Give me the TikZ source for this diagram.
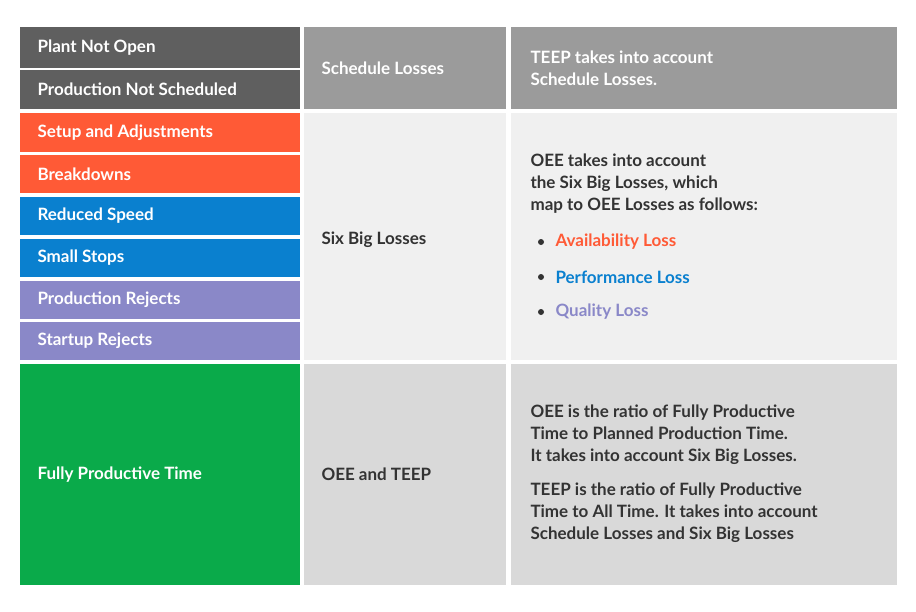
\documentclass[tikz,border=0pt]{standalone}
\usepackage{fontspec}
\setmainfont{Lato}
\definecolor{dg}{HTML}{5F5F5F}
\definecolor{og}{HTML}{FF5A36}
\definecolor{bl}{HTML}{0A80CF}
\definecolor{pu}{HTML}{8A88C8}
\definecolor{gr}{HTML}{0AAA4A}
\definecolor{hd}{HTML}{9B9B9B}
\definecolor{lt}{HTML}{F0F0F0}
\definecolor{md}{HTML}{D9D9D9}
\definecolor{tx}{HTML}{333333}
\begin{document}
\begin{tikzpicture}[x=1pt,y=-1pt,
 cell/.style={inner sep=0pt,font=\fontsize{17}{21}\selectfont\bfseries},
 lbl/.style={anchor=west,font=\fontsize{17}{22}\selectfont\bfseries,text=white},
 dark/.style={anchor=west,font=\fontsize{17}{22}\selectfont\bfseries,text=tx,align=left}]
\useasboundingbox[fill=white] (0,0) rectangle (916,611);
\newcommand{\bx}[5]{\fill[#5] (20,#1) rectangle (300,#2); \node[lbl] (#3) at (34,{(#1+#2)/2}) {#4};}
\bx{27}{68}{a1}{Plant Not Open}{dg}
\bx{70}{109}{a2}{Production Not Scheduled}{dg}
\bx{113}{152}{a3}{Setup and Adjustments}{og}
\bx{155}{193}{a4}{Breakdowns}{og}
\bx{197}{235}{a5}{Reduced Speed}{bl}
\bx{239}{277}{a6}{Small Stops}{bl}
\bx{281}{319}{a7}{Production Rejects}{pu}
\bx{322}{360}{a8}{Startup Rejects}{pu}
\bx{364}{585}{a9}{Fully Productive Time}{gr}
\fill[hd] (304,27) rectangle (506,109);
\fill[hd] (511,27) rectangle (897,109);
\fill[lt] (304,113) rectangle (506,360);
\fill[lt] (511,113) rectangle (897,360);
\fill[md] (304,364) rectangle (506,585);
\fill[md] (511,364) rectangle (897,585);
\node[lbl] (b1) at (318,68) {Schedule Losses};
\node[lbl,align=left] (c1) at (527,68) {TEEP takes into account\\Schedule Losses.};
\node[dark] (b2) at (318,240) {Six Big Losses};
\node[dark] (c2) at (527,184) {OEE takes into account\\the Six Big Losses, which\\map to OEE Losses as follows:};
\node[dark,text=og] (l1) at (552,242) {Availability Loss};
\node[dark,text=bl] (l2) at (552,277) {Performance Loss};
\node[dark,text=pu] (l3) at (552,312) {Quality Loss};
\foreach \y in {242,277,312} \fill[tx] (541,\y) circle (3);
\node[dark] (b3) at (318,474) {OEE and TEEP};
\node[dark] (c3) at (527,474) {OEE is the ratio of Fully Productive\\Time to Planned Production Time.\\It takes into account Six Big Losses.\\[12pt]TEEP is the ratio of Fully Productive\\Time to All Time. It takes into account\\Schedule Losses and Six Big Losses};
\end{tikzpicture}
\end{document}
